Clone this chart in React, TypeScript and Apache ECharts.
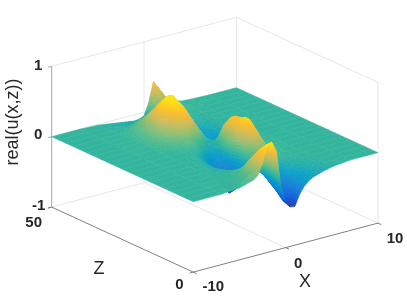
import React, { useEffect, useRef } from "react";
import * as echarts from "echarts";

// Grid of the surface
const xNodes = [-10, -7, -5, -4, -3.5, -3, -2.5, -2, -1.5, -1, -0.5, 0, 0.5, 1, 1.5, 2, 2.5, 3, 4, 5, 7, 10];
const zNodes = [0, 2.5, 5, 7.5, 10, 12.5, 15, 17.5, 20, 22.5, 25, 27.5, 30, 32.5, 35, 37.5, 40, 42.5, 45, 47.5, 50];
const realU: number[][] = [
  [0, 0, .02, .06, .08, .13, .28, .53, .55, .40, -.12, -.33, -.44, -.45, -.30, -.20, -.14, -.10, -.06, -.03, 0, 0],
  [0, 0, .01, .04, .06, .10, .22, .42, .44, .34, .02, -.24, -.40, -.42, -.32, -.20, -.13, -.09, -.05, -.02, 0, 0],
  [0, 0, .01, .02, .04, .07, .16, .28, .30, .26, .10, -.12, -.30, -.35, -.28, -.18, -.11, -.07, -.03, -.01, 0, 0],
  [0, 0, 0, .01, .02, .03, .07, .12, .13, .14, .08, -.08, -.22, -.25, -.20, -.12, -.07, -.04, -.01, 0, 0, 0],
  [0, 0, 0, 0, 0, .01, 0, -.08, -.13, -.10, -.08, -.10, -.12, -.08, -.03, -.02, -.01, 0, 0, 0, 0, 0],
  [0, 0, 0, 0, -.01, -.02, -.08, -.27, -.34, -.26, -.18, -.14, -.02, .12, .14, .09, .04, .02, 0, 0, 0, 0],
  [0, 0, 0, -.01, -.02, -.05, -.16, -.36, -.45, -.36, -.24, -.18, .16, .34, .32, .20, .09, .04, .01, 0, 0, 0],
  [0, 0, 0, -.01, -.02, -.04, -.12, -.30, -.36, -.32, -.27, -.22, .25, .495, .44, .28, .12, .05, .01, 0, 0, 0],
  [0, 0, 0, -.01, -.01, -.03, -.07, -.18, -.24, -.25, -.25, -.22, .20, .41, .42, .30, .14, .05, .01, 0, 0, 0],
  [0, 0, 0, 0, 0, -.01, -.03, -.07, -.12, -.16, -.18, -.16, .12, .40, .40, .28, .13, .05, .01, 0, 0, 0],
  [0, 0, 0, 0, 0, 0, 0, 0, -.02, -.06, -.09, -.10, 0, .25, .28, .20, .09, .03, .01, 0, 0, 0],
  [0, 0, .01, .02, .03, .05, .08, .10, .08, .03, 0, -.04, -.02, -.02, .10, .09, .04, .01, 0, 0, 0, 0],
  [0, 0, .01, .04, .08, .14, .24, .32, .33, .28, .20, .10, 0, -.10, -.15, -.16, -.13, -.06, -.02, 0, 0, 0],
  [0, 0, .02, .06, .13, .22, .38, .50, .50, .42, .30, .18, .06, -.05, -.14, -.20, -.17, -.08, -.02, 0, 0, 0],
  [0, 0, .02, .07, .15, .28, .45, .58, .57, .46, .33, .22, .11, .01, -.10, -.18, -.15, -.07, -.01, 0, 0, 0],
  [0, 0, .01, .06, .12, .22, .35, .45, .45, .37, .28, .18, .09, 0, -.07, -.10, -.08, -.04, -.01, 0, 0, 0],
  [0, 0, .01, .04, .08, .15, .24, .30, .30, .25, .18, .12, .06, .01, -.02, -.03, -.02, -.01, 0, 0, 0, 0],
  [0, 0, 0, .02, .05, .08, .12, .16, .17, .14, .10, .07, .05, .04, .03, .02, .01, 0, 0, 0, 0, 0],
  [0, 0, 0, 0, 0, 0, .02, .05, .05, .04, .02, .02, .05, .12, .12, .07, .04, .02, .01, 0, 0, 0],
  [0, 0, -.01, -.02, -.03, -.04, -.05, -.05, -.05, -.05, -.03, -.01, .08, .25, .22, .12, .07, .04, .01, .01, 0, 0],
  [0, 0, -.01, -.03, -.04, -.05, -.06, -.07, -.08, -.09, -.08, -.05, .12, .40, .30, .14, .09, .06, .02, .01, 0, 0],
];
const xTicks = [-10, 0, 10];
const yTicks = [-1, 0, 1];
const zTicks = [0, 50];
const colorLimits = [-0.5, 0.53];

const parula = [
  [53, 42, 135], [15, 92, 221], [20, 129, 214], [6, 160, 200], [58, 184, 152],
  [135, 191, 119], [209, 187, 89], [254, 192, 46], [250, 228, 20],
];

function colorOf(v: number) {
  const t = Math.max(0, Math.min(1, (v - colorLimits[0]) / (colorLimits[1] - colorLimits[0]))) * (parula.length - 1);
  const i = Math.min(parula.length - 2, Math.floor(t));
  const f = t - i;
  const c = parula[i].map((a, k) => Math.round(a + (parula[i + 1][k] - a) * f));
  return `rgb(${c[0]},${c[1]},${c[2]})`;
}

// The 3D box: screen position of (x=-10, y=0, z=0) and screen step per data unit
const O = [193.3, 201.7];
const EX = [9.235, -2.45];
const EZ = [-2.832, -1.3];
const EY = -70.4;
const project = (x: number, y: number, z: number) => [
  O[0] + (x + 10) * EX[0] + z * EZ[0],
  O[1] + (x + 10) * EX[1] + z * EZ[1] + y * EY,
];

function surfacePoint(i: number, j: number, fx: number, fz: number) {
  const x = xNodes[i] + (xNodes[i + 1] - xNodes[i]) * fx;
  const z = zNodes[j] + (zNodes[j + 1] - zNodes[j]) * fz;
  const v =
    realU[j][i] * (1 - fx) * (1 - fz) + realU[j][i + 1] * fx * (1 - fz) +
    realU[j + 1][i] * (1 - fx) * fz + realU[j + 1][i + 1] * fx * fz;
  return { x, z, v };
}

// Far cells first; a cell is painted in finer pieces the more its height changes (interpolated shading)
const cells: number[][] = [];
for (let j = zNodes.length - 2; j >= 0; j--) {
  const row: number[][][] = [];
  let rowN = 1;
  for (let i = xNodes.length - 2; i >= 0; i--) {
    const vs = [realU[j][i], realU[j][i + 1], realU[j + 1][i], realU[j + 1][i + 1]];
    const n = Math.max(1, Math.min(10, Math.ceil((Math.max(...vs) - Math.min(...vs)) / 0.02)));
    rowN = Math.max(rowN, n);
    const list: number[][] = [];
    for (let sj = n - 1; sj >= 0; sj--) for (let si = n - 1; si >= 0; si--) list.push([i, j, si, sj, n]);
    row.push(list);
  }
  // paint strip by strip from the back within the row
  for (let level = rowN - 1; level >= 0; level--) {
    for (const list of row) {
      const n = list[0][4];
      for (const c of list) {
        const bandTop = Math.floor(((c[3] + 1) * rowN - 1) / n);
        if (bandTop === level) cells.push(c);
      }
    }
  }
}

const x0 = xTicks[0], x1 = xTicks[2], y0 = yTicks[0], y1 = yTicks[2], z0 = zTicks[0], z1 = zTicks[1];
const LIGHT = "#e6e6e6", DARK = "#808080";
const seg = (a: number[], b: number[], color: string) => ({ a, b, color });
const boxLines = [
  // back walls
  seg([x0, y1, z1], [x1, y1, z1], LIGHT),
  seg([x1, y1, z1], [x1, y1, z0], LIGHT),
  seg([x1, y0, z1], [x1, y1, z1], LIGHT),
  seg([x1, y0, z0], [x1, y1, z0], LIGHT),
  seg([x0, y0, z1], [x1, y0, z1], LIGHT),
  seg([x1, y0, z1], [x1, y0, z0], LIGHT),
  seg([0, y0, z1], [0, y1, z1], LIGHT),
  seg([0, y0, z1], [0, y0, z0], LIGHT),
  seg([x0, 0, z1], [x1, 0, z1], LIGHT),
  seg([x1, 0, z1], [x1, 0, z0], LIGHT),
  // axes
  seg([x0, y0, z1], [x0, y1, z1], "#a6a6a6"),
  seg([x0, y0, z0], [x0, y0, z1], DARK),
  seg([x0, y0, z0], [x1, y0, z0], DARK),
  // ticks
  ...yTicks.map((t) => seg([x0, t, z1], [x0 - 0.4, t, z1], "#a6a6a6")),
  ...zTicks.map((t) => seg([x0, y0, t], [x0 - 0.4, y0, t], DARK)),
  ...xTicks.map((t) => seg([t, y0, z0], [t, y0, z0 - 1.2], DARK)),
];

const tickText = [
  ...yTicks.map((t, k) => ({ text: String(t), at: project(x0, t, z1), dx: [-13, -13.5, -13.5][k], dy: [-3, -3, -2][k] })),
  ...zTicks.map((t, k) => ({ text: String(t), at: project(x0, y0, t), dx: [-14, -18][k], dy: [11.5, 14.5][k] })),
  ...xTicks.map((t, k) => ({ text: String(t), at: project(t, y0, z0), dx: [20, 12.5, 17][k], dy: [13.5, 14.5, 14.5][k] })),
];

export default function App() {
  const ref = useRef<HTMLDivElement>(null);
  useEffect(() => {
    document.body.style.margin = "0";
    const chart = echarts.init(ref.current!, undefined, { renderer: "svg" });
    const lineItem = (_: any, api: any) => {
      const l = boxLines[api.value(0)];
      const a = api.coord(project(l.a[0], l.a[1], l.a[2]));
      const b = api.coord(project(l.b[0], l.b[1], l.b[2]));
      return {
        type: "line",
        shape: { x1: a[0], y1: a[1], x2: b[0], y2: b[1] },
        style: { stroke: l.color, lineWidth: 1 },
      };
    };
    const surfaceItem = (_: any, api: any) => {
      const i = api.value(0), j = api.value(1), si = api.value(2), sj = api.value(3), n = api.value(4);
      const corners = [
        surfacePoint(i, j, si / n, sj / n), surfacePoint(i, j, (si + 1) / n, sj / n),
        surfacePoint(i, j, (si + 1) / n, (sj + 1) / n), surfacePoint(i, j, si / n, (sj + 1) / n),
      ];
      const mean = (corners[0].v + corners[1].v + corners[2].v + corners[3].v) / 4;
      const fill = colorOf(mean);
      return {
        type: "polygon",
        shape: { points: corners.map((c) => api.coord(project(c.x, c.v, c.z))) },
        style: { fill, stroke: fill, lineWidth: 0.5, lineJoin: "round" },
      };
    };
    const tickItem = (_: any, api: any) => {
      const t = tickText[api.value(0)];
      const p = api.coord(t.at);
      return {
        type: "text",
        x: p[0] + t.dx, y: p[1] + t.dy,
        style: {
          text: t.text, fill: "#262626", align: "center", verticalAlign: "middle",
          font: "bold 15px 'Liberation Sans', Arial, sans-serif",
        },
      };
    };
    chart.setOption({
      animation: false,
      tooltip: { show: false },
      grid: { left: 0, right: 0, top: 0, bottom: 0 },
      xAxis: { type: "value", min: 0, max: 407, show: false },
      yAxis: { type: "value", min: 0, max: 302, inverse: true, show: false },
      series: [
        { type: "custom", coordinateSystem: "cartesian2d", silent: true, clip: false, z: 1, renderItem: lineItem,
          data: boxLines.map((_, k) => [k, 0]) },
        { type: "custom", coordinateSystem: "cartesian2d", silent: true, clip: false, z: 2, renderItem: surfaceItem,
          data: cells, progressive: 0 },
        { type: "custom", coordinateSystem: "cartesian2d", silent: true, clip: false, z: 3, renderItem: tickItem,
          data: tickText.map((_, k) => [k, 0]) },
      ],
      graphic: [
        { type: "text", x: 99, y: 267.5, style: { text: "Z", fill: "#262626", align: "center", verticalAlign: "middle", font: "18px 'Liberation Sans', Arial, sans-serif" } },
        { type: "text", x: 305, y: 280.5, style: { text: "X", fill: "#262626", align: "center", verticalAlign: "middle", font: "18px 'Liberation Sans', Arial, sans-serif" } },
        { type: "text", x: 12, y: 122, rotation: Math.PI / 2, style: { text: "real(u(x,z))", fill: "#262626", align: "center", verticalAlign: "middle", font: "18px 'Liberation Sans', Arial, sans-serif" } },
      ],
    });
    return () => chart.dispose();
  }, []);
  return <div ref={ref} style={{ width: 407, height: 302, filter: "blur(0.5px)" }} />;
}
